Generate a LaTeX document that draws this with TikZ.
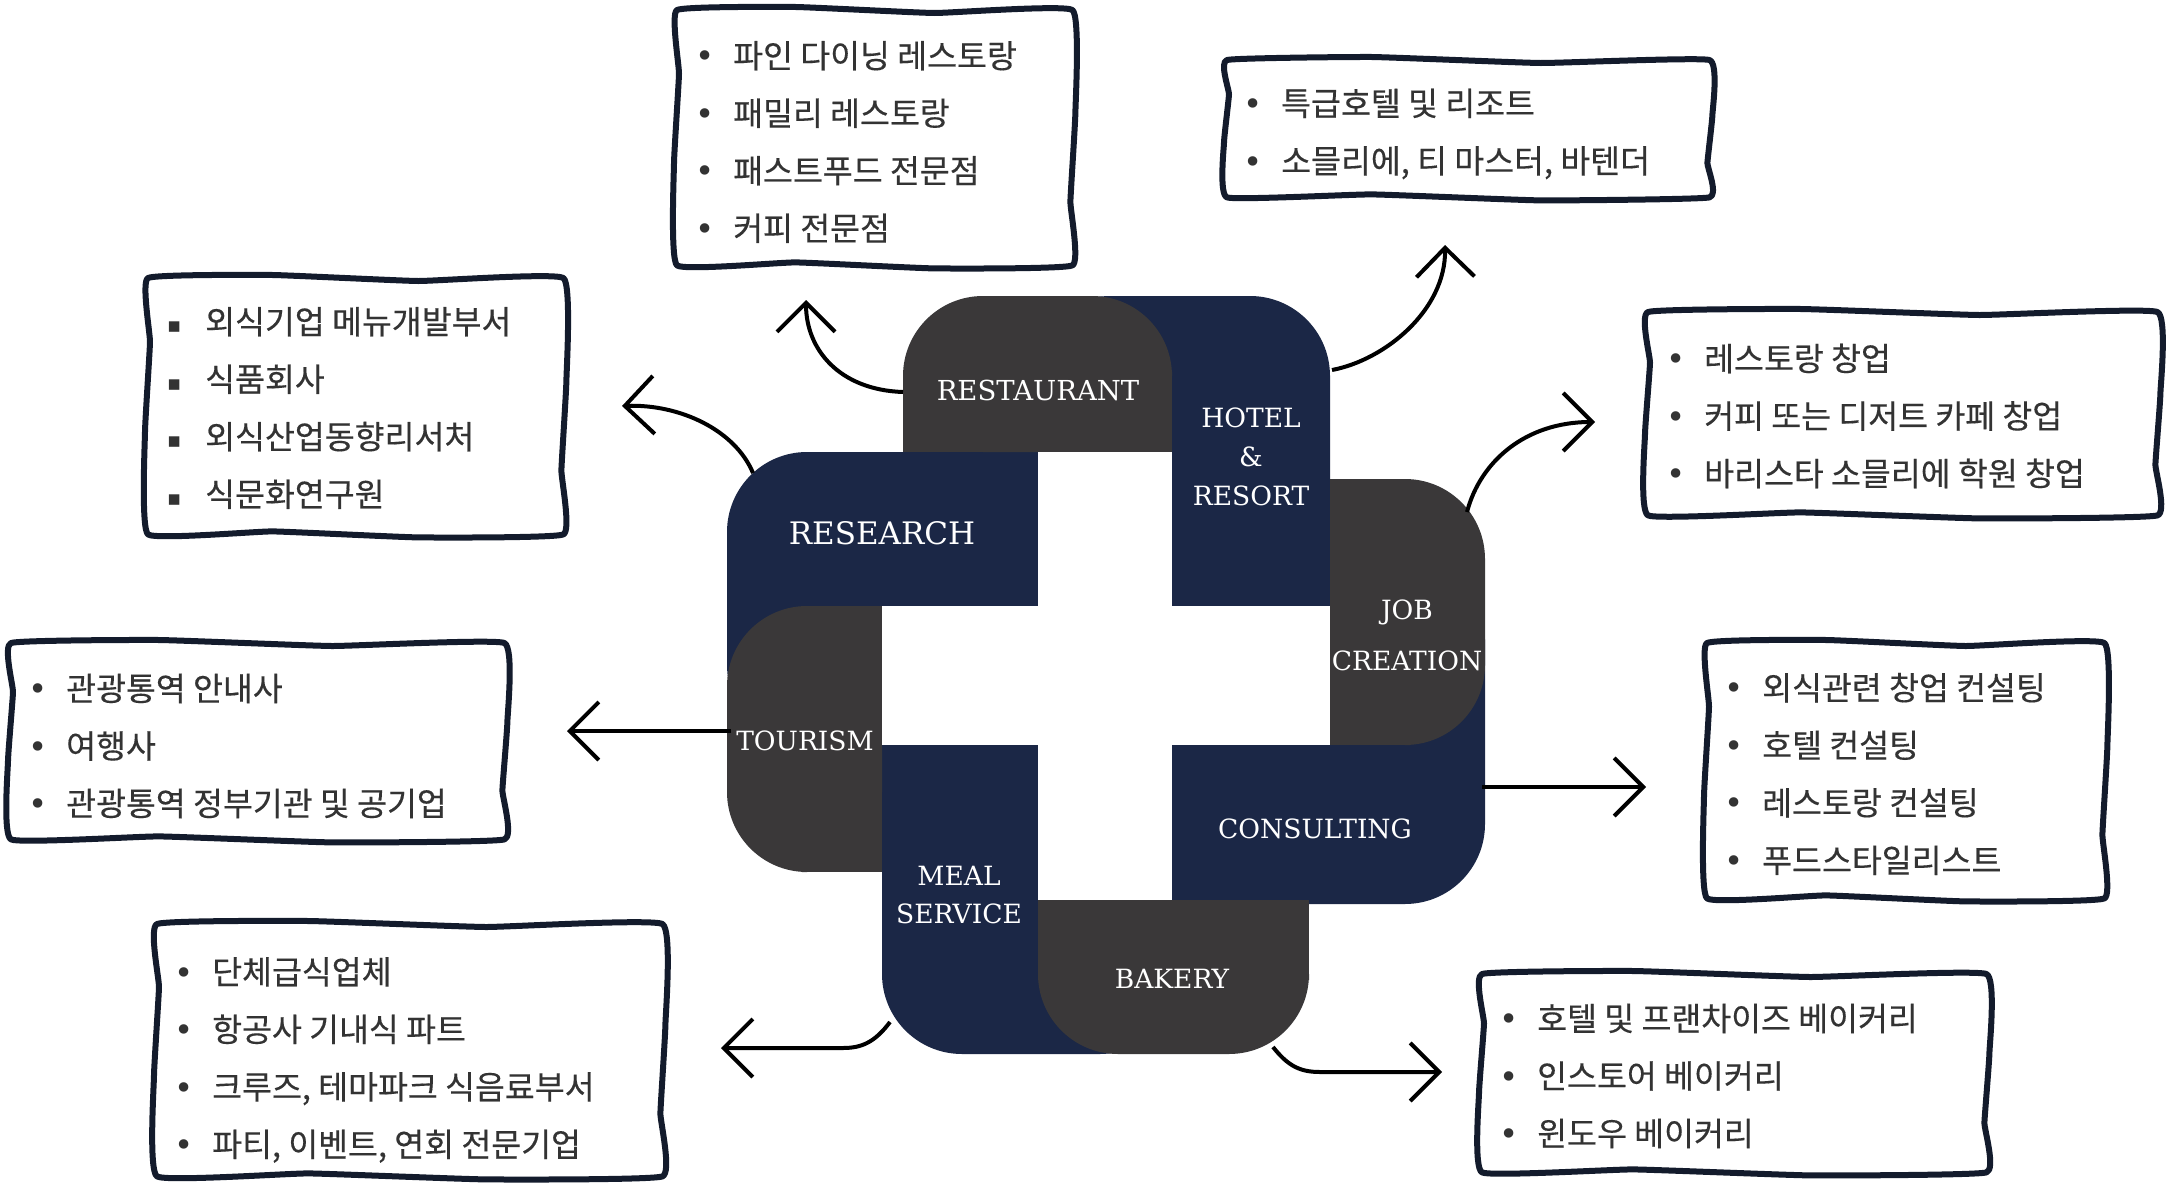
\documentclass[tikz,border=0pt]{standalone}
\usepackage{fontspec}
\newfontfamily\kor[FakeBold=0.35]{Noto Sans CJK KR}
\newfontfamily\tileserif{DejaVu Serif}
\newfontfamily\dejavu{DejaVu Sans}
\usetikzlibrary{arrows.meta,calc}
\definecolor{navy}{HTML}{1B2746}
\definecolor{tilegray}{HTML}{3A3839}
\definecolor{framecol}{HTML}{131B2C}
\definecolor{ktext}{HTML}{333333}
\newcommand\bl{\makebox[38pt][l]{\dejavu •}}
\newcommand\sq{\makebox[38pt][l]{\raisebox{1pt}{\dejavu\fontsize{21}{21}\selectfont ▪}}}
\newcommand\wob[1]{\draw[framestyle] plot[smooth cycle, tension=0.2] coordinates {
  (#1.north west)
  ($(#1.north west)!0.3!(#1.north east)+(0,-3)$)
  ($(#1.north west)!0.65!(#1.north east)+(0,3)$)
  (#1.north east)
  ($(#1.north east)!0.4!(#1.south east)+(3,0)$)
  ($(#1.north east)!0.75!(#1.south east)+(-2,0)$)
  (#1.south east)
  ($(#1.south east)!0.35!(#1.south west)+(0,3)$)
  ($(#1.south east)!0.7!(#1.south west)+(0,-3)$)
  (#1.south west)
  ($(#1.south west)!0.4!(#1.north west)+(-3,0)$)
  ($(#1.south west)!0.75!(#1.north west)+(2,0)$)};}
\begin{document}
\begin{tikzpicture}[x=1pt,y=-1pt,
  tiletext/.style={text=white, font=\tileserif\fontsize{26.5}{39}\selectfont, align=center, inner sep=0pt},
  listbox/.style={anchor=north west, inner sep=0pt},
  framestyle/.style={draw=framecol, line width=6pt, line join=round},
  listtext/.style={anchor=west, inner sep=0pt, align=left, text=ktext,
    font=\kor\fontsize{32.5}{57.5}\selectfont},
  arr/.style={line width=4pt, -{Straight Barb[length=29pt,width=58pt]}},
]
\useasboundingbox (0,0) rectangle (2172,1183);
\fill[white] (0,0) rectangle (2172,1183);

% ---- navy pieces ----
\fill[navy, rounded corners=80pt] (1030,296) rectangle (1330,606);
\fill[navy] (1172,452) rectangle (1330,606);
\fill[navy, rounded corners=80pt] (1172,560) rectangle (1485,904);
\fill[navy] (1172,745) rectangle (1330,904);
\fill[navy, rounded corners=80pt] (882,745) rectangle (1180,1054);
\fill[navy] (882,745) rectangle (1038,900);
\fill[navy, rounded corners=80pt] (727,452) rectangle (1038,745);
\fill[navy] (882,452) rectangle (1038,606);
% ---- gray pieces ----
\fill[tilegray, rounded corners=80pt] (903,296) rectangle (1172,452);
\fill[tilegray] (903,374) rectangle (1172,452);
\fill[tilegray, rounded corners=80pt] (1330,479) rectangle (1485,745);
\fill[tilegray] (1330,479) rectangle (1408,745);
\fill[tilegray, rounded corners=80pt] (1038,900) rectangle (1309,1054);
\fill[tilegray] (1038,900) rectangle (1309,978);
\fill[tilegray, rounded corners=80pt] (727,606) rectangle (882,872);
\fill[tilegray] (804,606) rectangle (882,872);
% ---- white cross ----
\fill[white] (882,606) rectangle (1330,745);
\fill[white] (1038,452) rectangle (1172,900);

% ---- tile labels ----
\node[tiletext, font=\tileserif\fontsize{27.5}{39}\selectfont] (restaurant) at (1038,390) {RESTAURANT};
\node[tiletext] (hotel) at (1251,457) {HOTEL\\\&\\RESORT};
\node[tiletext, font=\tileserif\fontsize{31}{37}\selectfont] (research) at (882,533) {RESEARCH};
\node[tiletext] (job) at (1407,612) {JOB};
\node[tiletext] (creation) at (1407,661) {CREATION};
\node[tiletext] (tourism) at (805,741) {TOURISM};
\node[tiletext] (consulting) at (1315,829) {CONSULTING};
\node[tiletext, font=\tileserif\fontsize{26.5}{38}\selectfont] (meal) at (959,895) {MEAL\\SERVICE};
\node[tiletext] (bakery) at (1172,979) {BAKERY};

% ---- list boxes ----
\node[listbox, minimum width=395pt, minimum height=255pt] (box1) at (677,10) {};
\wob{box1}
\node[listtext] (list1) at (695,142) {\bl 파인 다이닝 레스토랑\\\bl 패밀리 레스토랑\\\bl 패스트푸드 전문점\\\bl 커피 전문점};

\node[listbox, minimum width=482pt, minimum height=137pt] (box2) at (1227,60) {};
\wob{box2}
\node[listtext] (list2) at (1243,134) {\bl 특급호텔 및 리조트\\\bl 소믈리에, 티 마스터, 바텐더};

\node[listbox, minimum width=415pt, minimum height=256pt] (box3) at (148,278) {};
\wob{box3}
\node[listtext] (list3) at (167,408) {\sq 외식기업 메뉴개발부서\\\sq 식품회사\\\sq 외식산업동향리서처\\\sq 식문화연구원};

\node[listbox, minimum width=509pt, minimum height=203pt] (box4) at (1648,312) {};
\wob{box4}
\node[listtext] (list4) at (1666,416) {\bl 레스토랑 창업\\\bl 커피 또는 디저트 카페 창업\\\bl 바리스타 소믈리에 학원 창업};

\node[listbox, minimum width=493pt, minimum height=196pt] (box5) at (11,643) {};
\wob{box5}
\node[listtext] (list5) at (28,746) {\bl 관광통역 안내사\\\bl 여행사\\\bl 관광통역 정부기관 및 공기업};

\node[listbox, minimum width=397pt, minimum height=255pt] (box6) at (1707,643) {};
\wob{box6}
\node[listtext] (list6) at (1724,774) {\bl 외식관련 창업 컨설팅\\\bl 호텔 컨설팅\\\bl 레스토랑 컨설팅\\\bl 푸드스타일리스트};

\node[listbox, minimum width=505pt, minimum height=252pt] (box7) at (157,924) {};
\wob{box7}
\node[listtext] (list7) at (174,1060) {\bl 단체급식업체\\\bl 항공사 기내식 파트\\\bl 크루즈, 테마파크 식음료부서\\\bl 파티, 이벤트, 연회 전문기업};

\node[listbox, minimum width=504pt, minimum height=198pt] (box8) at (1482,974) {};
\wob{box8}
\node[listtext] (list8) at (1499,1076) {\bl 호텔 및 프랜차이즈 베이커리\\\bl 인스토어 베이커리\\\bl 윈도우 베이커리};

% ---- connector end points ----
\coordinate (aS) at (903,392);  \coordinate (aT) at (806,300);
\coordinate (bS) at (1332,370); \coordinate (bT) at (1445,245);
\coordinate (cS) at (753,473);  \coordinate (cT) at (622,406);
\coordinate (dS) at (1467,512); \coordinate (dT) at (1595,422);
\coordinate (eS) at (731,731);  \coordinate (eT) at (567,731);
\coordinate (fS) at (1482,787); \coordinate (fT) at (1646,787);
\coordinate (gS) at (890,1022); \coordinate (gT) at (721,1048);
\coordinate (hS) at (1273,1047);\coordinate (hT) at (1442,1072);

\draw[arr] (aS) .. controls (840,390) and (806,350) .. (aT);
\draw[arr] (bS) .. controls (1385,360) and (1446,310) .. (bT);
\draw[arr] (cS) .. controls (735,430) and (680,404) .. (cT);
\draw[arr] (dS) .. controls (1480,462) and (1525,422) .. (dT);
\draw[arr] (eS) -- (eT);
\draw[arr] (fS) -- (fT);
\draw[arr] (gS) .. controls (875,1042) and (862,1048) .. (843,1048) -- (gT);
\draw[arr] (hS) .. controls (1288,1066) and (1300,1072) .. (1320,1072) -- (hT);
\end{tikzpicture}
\end{document}
